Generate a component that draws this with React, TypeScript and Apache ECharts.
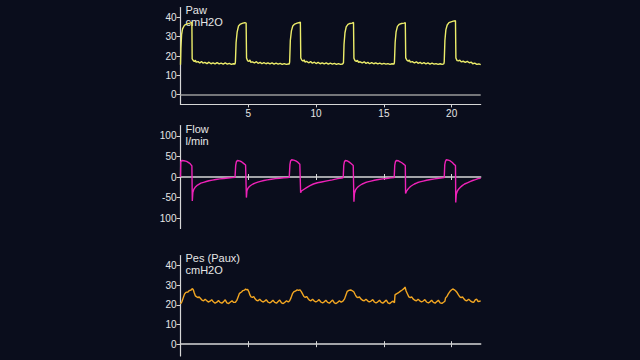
import React, { useEffect, useRef } from "react";
import * as echarts from "echarts";

// ---- data (time in s, value) ----
const xTicks = [5, 10, 15, 20];
const pressureTicks = [0, 10, 20, 30, 40];
const flowTicks = [-100, -50, 0, 50, 100];

const pawData: number[][] = [
  [0, 15.5], [0.03, 24], [0.08, 31], [0.15, 34], [0.3, 36], [0.5, 36.6], [0.7, 37], [0.84, 37.4],
  [0.86, 18.5], [0.95, 17.6], [1.02, 17.2], [1.1, 17.8], [1.15, 16.8], [1.3, 17.1], [1.42, 16.4], [1.55, 17.2], [1.65, 16.3], [1.8, 16.7], [1.95, 16.1], [2.1, 16.8], [2.25, 16], [2.4, 16.5], [2.55, 15.9], [2.7, 16.6], [2.85, 15.9], [3.0, 16.3], [3.15, 15.8], [3.3, 16.4], [3.45, 15.8], [3.6, 16.2], [3.75, 15.7], [3.9, 16], [4.02, 15.8],
  [4.05, 17], [4.1, 27], [4.18, 32.5], [4.28, 35.5], [4.42, 36.5], [4.6, 37], [4.75, 37.2], [4.84, 37],
  [4.87, 19], [4.95, 17.5], [5.05, 17.3], [5.12, 17.9], [5.18, 16.8], [5.3, 17], [5.45, 16.4], [5.6, 17.1], [5.72, 16.2], [5.88, 16.7], [6.0, 16], [6.15, 16.6], [6.3, 16], [6.45, 16.5], [6.6, 15.9], [6.75, 16.4], [6.9, 15.8], [7.05, 16.3], [7.2, 15.8], [7.35, 16.2], [7.5, 15.7], [7.65, 16.1], [7.8, 15.7], [7.95, 15.9], [8.02, 15.8],
  [8.05, 17], [8.1, 28], [8.18, 33], [8.28, 35.5], [8.42, 36.5], [8.6, 37], [8.78, 37.3], [8.84, 37.5],
  [8.87, 19], [8.95, 17.8], [9.05, 17.4], [9.12, 18], [9.18, 16.9], [9.3, 17.2], [9.45, 16.5], [9.6, 17.1], [9.72, 16.3], [9.88, 16.8], [10.0, 16.1], [10.15, 16.7], [10.3, 16], [10.45, 16.5], [10.6, 15.9], [10.75, 16.4], [10.9, 15.8], [11.05, 16.3], [11.2, 15.8], [11.35, 16.2], [11.5, 15.7], [11.65, 16.1], [11.8, 15.7], [11.95, 15.9],
  [12.02, 16.5], [12.06, 26], [12.13, 32], [12.22, 35], [12.35, 36.3], [12.5, 36.8], [12.65, 37], [12.76, 37.3],
  [12.79, 18.8], [12.87, 17.6], [12.97, 17.2], [13.05, 17.8], [13.12, 16.8], [13.25, 17], [13.4, 16.4], [13.55, 17], [13.68, 16.2], [13.82, 16.7], [13.95, 16], [14.1, 16.6], [14.25, 16], [14.4, 16.5], [14.55, 15.9], [14.7, 16.3], [14.85, 15.8], [15.0, 16.2], [15.15, 15.8], [15.3, 16.1], [15.45, 15.7], [15.6, 16], [15.75, 15.8],
  [15.78, 17], [15.83, 27], [15.9, 32.5], [16.0, 35.3], [16.12, 36.3], [16.3, 36.8], [16.48, 37], [16.58, 37.2],
  [16.61, 19], [16.7, 17.8], [16.8, 17.3], [16.88, 17.9], [16.95, 16.8], [17.1, 17.1], [17.25, 16.4], [17.4, 17], [17.52, 16.2], [17.68, 16.7], [17.8, 16], [17.95, 16.6], [18.1, 15.9], [18.25, 16.4], [18.4, 15.8], [18.55, 16.3], [18.7, 15.8], [18.85, 16.1], [19.0, 15.7], [19.15, 16], [19.3, 15.7], [19.42, 15.9],
  [19.45, 17], [19.5, 28], [19.57, 33.5], [19.67, 36], [19.8, 37.2], [19.95, 37.6], [20.12, 38], [20.28, 38.2],
  [20.31, 19], [20.4, 17.6], [20.5, 17.5], [20.6, 17.9], [20.7, 17], [20.85, 17.3], [21.0, 16.7], [21.15, 17.2], [21.3, 16.5], [21.45, 16.8], [21.55, 16], [21.7, 16.3], [21.85, 15.7], [22.0, 15.9], [22.14, 15.5],
];

const flowData: number[][] = [
  [0, 0], [0.02, 37], [0.1, 40], [0.25, 39.5], [0.45, 38], [0.6, 35], [0.72, 32], [0.84, 27],
  [0.86, 26], [0.87, -58], [0.91, -38], [0.98, -30], [1.08, -25], [1.2, -21], [1.35, -18], [1.5, -15], [1.7, -13], [1.9, -11], [2.1, -9], [2.35, -7.5], [2.6, -6], [2.9, -4.5], [3.2, -3.5], [3.5, -2.5], [3.8, -1.5], [4.02, -1],
  [4.05, 0], [4.07, 28], [4.12, 37], [4.2, 40], [4.35, 39], [4.5, 37], [4.65, 33], [4.8, 29], [4.84, 28],
  [4.86, -50], [4.9, -33], [4.98, -27], [5.08, -23], [5.2, -20], [5.35, -17], [5.5, -15], [5.7, -12.5], [5.9, -10.5], [6.15, -8.5], [6.4, -7], [6.7, -5.5], [7.0, -4], [7.3, -3], [7.6, -2], [7.9, -1.5], [8.02, -1],
  [8.05, 0], [8.07, 30], [8.12, 39], [8.2, 42], [8.35, 41], [8.5, 39], [8.65, 36], [8.8, 31], [8.84, 30],
  [8.86, -38], [8.92, -34], [9.06, -31], [9.3, -26], [9.55, -21], [9.8, -17], [10.1, -14], [10.4, -12], [10.8, -9.5], [11.2, -7], [11.6, -4], [11.9, -2.5], [12.0, -1.5],
  [12.02, 0], [12.04, 28], [12.09, 37], [12.16, 40], [12.3, 39], [12.45, 36], [12.6, 32], [12.74, 28], [12.77, 27],
  [12.79, -60], [12.83, -40], [12.9, -32], [13.0, -27], [13.12, -23], [13.25, -20], [13.4, -17], [13.6, -14], [13.8, -12], [14.05, -10], [14.3, -8], [14.6, -6], [14.9, -4.5], [15.2, -3.5], [15.5, -2], [15.76, -1.5],
  [15.78, 0], [15.8, 28], [15.85, 37], [15.92, 40], [16.05, 39.5], [16.2, 37], [16.35, 34], [16.5, 30], [16.58, 28],
  [16.6, -40], [16.66, -35], [16.74, -31], [16.84, -27], [16.96, -23], [17.1, -20], [17.25, -17], [17.45, -14], [17.65, -12], [17.9, -10], [18.15, -8], [18.45, -6], [18.75, -4.5], [19.05, -3], [19.3, -2], [19.45, -1.5],
  [19.47, 0], [19.49, 30], [19.54, 38], [19.61, 42], [19.75, 41], [19.9, 39], [20.05, 35], [20.2, 30], [20.28, 28],
  [20.3, -62], [20.34, -42], [20.42, -34], [20.52, -29], [20.64, -25], [20.78, -21], [20.95, -17], [21.15, -14], [21.35, -11], [21.55, -8.5], [21.75, -6.5], [21.95, -4], [22.14, -3],
];

const pesData: number[][] = [
  [0, 20.5], [0.1, 21.5], [0.2, 23.5], [0.3, 25.5], [0.4, 26.3], [0.55, 26.5], [0.65, 27.2], [0.78, 27.5], [0.88, 28.2], [0.95, 27.5], [1.02, 26], [1.1, 24.5], [1.2, 24], [1.3, 23.6], [1.38, 24], [1.48, 23.2], [1.58, 22.4], [1.7, 22], [1.82, 22.8], [1.92, 22.2], [2.05, 21.4], [2.18, 21.8], [2.3, 22.6], [2.42, 21.5], [2.55, 20.8], [2.68, 21.3], [2.8, 22.2], [2.92, 21.2], [3.05, 20.8], [3.18, 21.6], [3.3, 22.5], [3.42, 21], [3.55, 20.6], [3.68, 21.4], [3.8, 22], [3.92, 21.2], [4.05, 21.3], [4.15, 22.2],
  [4.25, 24], [4.35, 25.8], [4.5, 26.5], [4.6, 27.2], [4.72, 27.4], [4.8, 28], [4.88, 27.6], [4.95, 27.8], [5.05, 26.5], [5.12, 25], [5.2, 24], [5.3, 23.8], [5.4, 24.2], [5.5, 23], [5.6, 22.3], [5.72, 22], [5.84, 22.8], [5.95, 22], [6.08, 21.4], [6.2, 21.8], [6.32, 22.6], [6.45, 21.4], [6.58, 20.9], [6.7, 21.5], [6.82, 22.3], [6.95, 21.2], [7.08, 20.8], [7.2, 21.6], [7.32, 22.4], [7.45, 21], [7.58, 20.6], [7.7, 21.3], [7.82, 22], [7.95, 21.4], [8.05, 22],
  [8.15, 23.5], [8.25, 25.5], [8.35, 26.5], [8.5, 27], [8.6, 27.6], [8.7, 27.3], [8.8, 27.6], [8.9, 26.8], [9.0, 25.5], [9.1, 24.2], [9.2, 23.8], [9.3, 24.2], [9.4, 23.2], [9.5, 22.4], [9.62, 22], [9.74, 22.8], [9.85, 22], [9.98, 21.4], [10.1, 21.9], [10.22, 22.6], [10.35, 21.4], [10.48, 20.9], [10.6, 21.5], [10.72, 22.3], [10.85, 21.2], [10.98, 20.8], [11.1, 21.6], [11.22, 22.4], [11.35, 21], [11.48, 20.6], [11.6, 21.3], [11.72, 22], [11.85, 21.3], [11.98, 21.8],
  [12.1, 23], [12.2, 25], [12.3, 26.8], [12.42, 27.3], [12.55, 27.5], [12.68, 27], [12.78, 26.6], [12.88, 25.2], [12.98, 24], [13.08, 23.6], [13.2, 24], [13.3, 23], [13.42, 22.3], [13.55, 22], [13.68, 22.8], [13.8, 22], [13.92, 21.4], [14.05, 21.9], [14.18, 22.6], [14.3, 21.4], [14.42, 20.9], [14.55, 21.5], [14.68, 22.3], [14.8, 21.2], [14.92, 20.8], [15.05, 21.6], [15.18, 22.4], [15.3, 21], [15.42, 20.6], [15.55, 21.3], [15.68, 21.8], [15.78, 21],
  [15.82, 25], [15.92, 25.5], [16.05, 26], [16.2, 26.8], [16.35, 27.5], [16.48, 28.2], [16.56, 29], [16.64, 27], [16.74, 25.5], [16.84, 24], [16.95, 23.6], [17.05, 24], [17.15, 23], [17.28, 22.3], [17.4, 22], [17.52, 22.8], [17.65, 22], [17.78, 21.4], [17.9, 21.9], [18.02, 22.6], [18.15, 21.4], [18.28, 20.9], [18.4, 21.5], [18.52, 22.3], [18.65, 21.2], [18.78, 20.8], [18.9, 21.6], [19.02, 22.3], [19.15, 21], [19.28, 20.7], [19.4, 21.3], [19.5, 21.8],
  [19.55, 23.5], [19.65, 24.2], [19.75, 25.5], [19.88, 26.8], [19.98, 27.5], [20.08, 28], [20.2, 27.6], [20.3, 27], [20.4, 26.2], [20.5, 25], [20.6, 24], [20.7, 23.6], [20.8, 24], [20.9, 23], [21.0, 22.3], [21.12, 22], [21.25, 22.8], [21.38, 22], [21.5, 21.4], [21.62, 21.2], [21.75, 22.6], [21.85, 22.8], [21.95, 21.6], [22.05, 21.8], [22.14, 22],
];

const seriesNames = ["Paw", "Flow", "Pes (Paux)"];
const seriesUnits = ["cmH2O", "l/min", "cmH2O"];

const BG = "#0a0d1c";
const AXIS = "#d6d6d6";
const LABEL = "#e6e6e6";
const FONT = "Liberation Sans, Arial, sans-serif";

export default function App() {
  const ref = useRef<HTMLDivElement>(null);
  useEffect(() => {
    document.body.style.margin = "0";
    document.body.style.background = BG;
    const chart = echarts.init(ref.current!, undefined, { renderer: "svg" });
    const L = 180.5;
    const W = 300.2;
    const grids = [
      { left: L, top: 7.6, width: W, height: 96.8 },
      { left: L, top: 125.5, width: W, height: 103 },
      { left: L, top: 255.5, width: W, height: 100.5 },
    ];
    const xBase = (gi: number, onZero: boolean, labels: boolean) => ({
      type: "value",
      gridIndex: gi,
      min: 0,
      max: 22.14,
      splitLine: { show: false },
      axisLine: { show: true, onZero, lineStyle: { color: AXIS, width: gi === 0 ? 1.2 : 1.5 } },
      axisTick: { show: true, length: 3, customValues: xTicks, lineStyle: { color: AXIS, width: 1 } },
      axisLabel: {
        show: labels,
        customValues: xTicks,
        color: LABEL,
        fontSize: 10,
        fontFamily: FONT,
        margin: 4,
      },
    });
    // second x axis per lower panel: ticks pointing up, placed on zero of a twin y axis
    const xInner = (gi: number, yIdx: number) => ({
      type: "value",
      gridIndex: gi,
      position: "bottom",
      min: 0,
      max: 22.14,
      splitLine: { show: false },
      axisLine: { show: true, onZero: true, onZeroAxisIndex: yIdx, lineStyle: { color: AXIS, width: 0, opacity: 0 } },
      axisTick: { show: true, inside: true, length: 3, customValues: xTicks, lineStyle: { color: AXIS, width: 1 } },
      axisLabel: { show: false },
    });
    const yBase = (gi: number, min: number, max: number, ticks: number[]) => ({
      type: "value",
      gridIndex: gi,
      min,
      max,
      splitLine: { show: false },
      axisLine: { show: true, onZero: false, lineStyle: { color: AXIS, width: 1.2 } },
      axisTick: { show: true, length: 4, customValues: ticks, lineStyle: { color: AXIS, width: 1 } },
      axisLabel: {
        customValues: ticks,
        color: LABEL,
        fontSize: 10,
        fontFamily: FONT,
        margin: 4,
        formatter: (v: number) => (v === -100 ? "100" : String(v)),
      },
    });
    const yTwin = (gi: number, min: number, max: number) => ({
      type: "value",
      gridIndex: gi,
      min,
      max,
      show: false,
      position: "left",
      axisLine: { onZero: false },
      splitLine: { show: false },
    });
    const titles: any[] = [];
    const titleTops = [[4.7, 16.6], [123, 135.7], [252.4, 264]];
    seriesNames.forEach((n, i) => {
      titles.push({
        type: "text", x: 185.5, y: titleTops[i][0],
        style: { text: n, fill: LABEL, font: `11px ${FONT}` },
      });
      titles.push({
        type: "text", x: 185.5, y: titleTops[i][1],
        style: { text: seriesUnits[i], fill: LABEL, font: `11px ${FONT}` },
      });
    });
    chart.setOption({
      animation: false,
      backgroundColor: BG,
      grid: grids,
      xAxis: [
        xBase(0, false, true),
        xBase(1, true, false),
        xBase(2, true, false),
        xInner(1, 3),
        xInner(2, 4),
      ],
      yAxis: [
        yBase(0, -5, 45, pressureTicks),
        yBase(1, -125, 125, flowTicks),
        yBase(2, -6, 45, pressureTicks),
        yTwin(1, -125, 125),
        yTwin(2, -6, 45),
      ],
      graphic: titles,
      series: [
        {
          type: "line", name: seriesNames[0], xAxisIndex: 0, yAxisIndex: 0,
          data: pawData, showSymbol: false, symbol: "none",
          lineStyle: { color: "#ecec6a", width: 1.4 },
          markLine: {
            silent: true, symbol: ["none", "none"], label: { show: false },
            lineStyle: { color: "#9a9a9a", width: 1.5, type: "solid" },
            data: [{ yAxis: 0 }],
          },
          z: 3,
        },
        {
          type: "line", name: seriesNames[1], xAxisIndex: 1, yAxisIndex: 1,
          data: flowData, showSymbol: false, symbol: "none",
          lineStyle: { color: "#ee22b8", width: 1.4 },
          z: 3,
        },
        {
          type: "line", name: seriesNames[2], xAxisIndex: 2, yAxisIndex: 2,
          data: pesData, showSymbol: false, symbol: "none",
          lineStyle: { color: "#f2a622", width: 1.4 },
          z: 3,
        },
      ],
    });
    return () => chart.dispose();
  }, []);
  return (
    <div
      ref={ref}
      style={{ position: "fixed", left: 0, top: 0, width: 640, height: 360, background: BG }}
    />
  );
}
